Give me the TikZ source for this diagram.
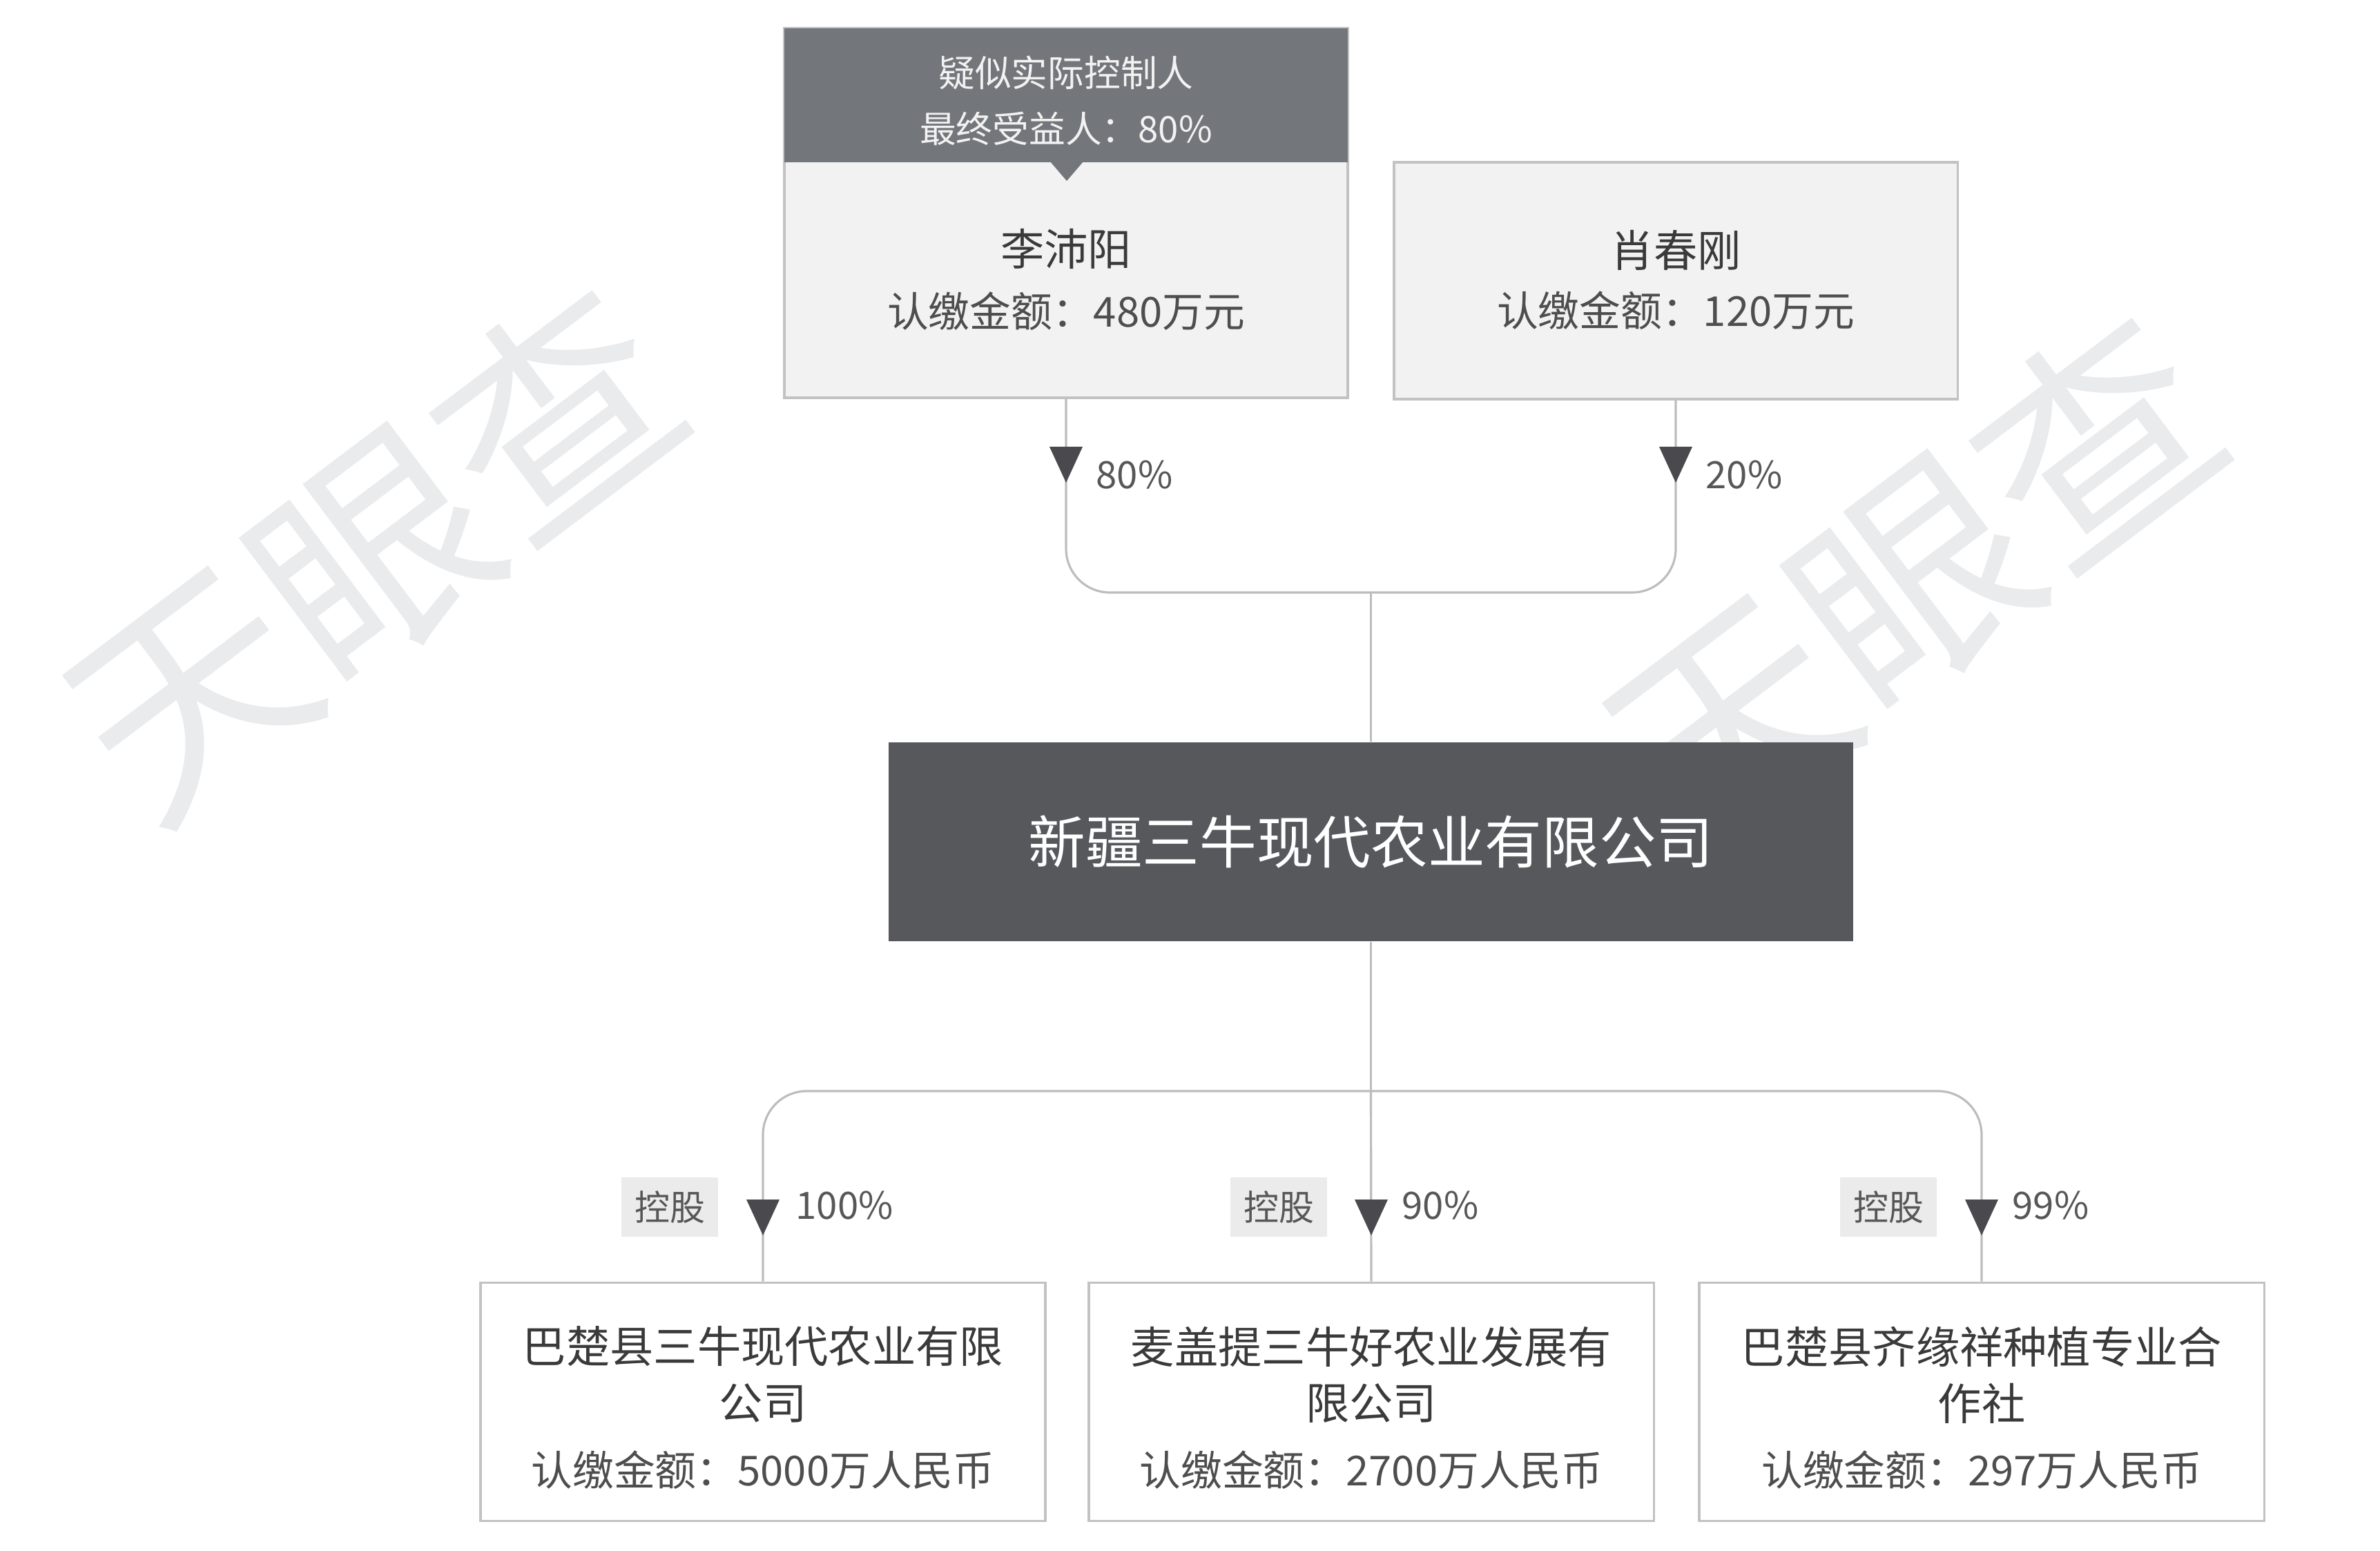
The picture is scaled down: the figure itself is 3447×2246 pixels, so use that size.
\documentclass[tikz,border=0pt]{standalone}
\usepackage{fontspec}
\newfontfamily\cjk{Noto Sans CJK SC}
\usetikzlibrary{calc}
\definecolor{linec}{HTML}{BDBDBD}
\definecolor{boxb}{HTML}{C2C2C2}
\definecolor{topfill}{HTML}{F2F2F2}
\definecolor{headfill}{HTML}{73767A}
\definecolor{mainfill}{HTML}{56585C}
\definecolor{arrowc}{HTML}{4A4A4E}
\definecolor{textc}{HTML}{3A3A3A}
\definecolor{tagfill}{HTML}{EBEBEB}
\definecolor{wmark}{HTML}{EAEBED}
\newcommand\fsz[1]{\fontsize{#1pt}{#1pt}\selectfont}
\tikzset{
  conn/.style={draw=linec, line width=0.9pt},
  topbox/.style={draw=boxb, fill=topfill, line width=1pt, minimum width=8.16cm, inner sep=0pt},
  headbox/.style={fill=headfill, minimum width=8.16cm, minimum height=1.94cm, inner sep=0pt},
  mainbox/.style={fill=mainfill, minimum width=13.97cm, minimum height=2.88cm, inner sep=0pt, text=white, font=\cjk\fsz{23.5}},
  subbox/.style={draw=boxb, fill=white, line width=1pt, minimum width=8.18cm, minimum height=3.45cm, inner sep=0pt},
  namet/.style={inner sep=0pt, text=textc, font=\cjk\fsz{18}},
  amtt/.style={inner sep=0pt, text=textc!90!white, font=\cjk\fsz{17}},
  headt/.style={inner sep=0pt, text=white!95!black, font=\cjk\fsz{15}},
  pct/.style={inner sep=0pt, anchor=west, text=textc!85!white, font=\cjk\fsz{15.5}},
  tagt/.style={fill=tagfill, minimum width=1.40cm, minimum height=0.85cm, inner sep=0pt, text=textc!85!white, font=\cjk\fsz{14.5}},
  wm/.style={inner sep=0pt, text=wmark, font=\cjk\fsz{95}, rotate=37},
  tri/.style={fill=arrowc}
}
\begin{document}
\begin{tikzpicture}[x=0.01cm, y=-0.01cm]
\useasboundingbox[fill=white] (0,0) rectangle (3447,2246);

% watermarks
\node[wm] (wm1) at (540,800) {天眼查};
\node[wm] (wm2) at (2770,840) {天眼查};

% top-left shareholder
\node[topbox, minimum height=5.35cm] (li) at (1544,308.5) {};
\node[headbox] (lihead) at (1544,138) {};
\fill[headfill] (1521,234) -- (1569,234) -- (1545,262) -- cycle;
\node[headt] (lih1) at (1544,105) {疑似实际控制人};
\node[headt] (lih2) at (1544,186) {最终受益人：80\%};
\node[namet] (lin) at (1544,360) {李沛阳};
\node[amtt] (lia) at (1544,451) {认缴金额：480万元};

% top-right shareholder
\node[topbox, minimum height=3.43cm] (xiao) at (2427,406.5) {};
\node[namet] (xiaon) at (2427,362) {肖春刚};
\node[amtt] (xiaoa) at (2427,450) {认缴金额：120万元};

% main company
\node[mainbox] (main) at (1985.5,1219) {新疆三牛现代农业有限公司};

% subsidiaries
\node[subbox] (c1) at (1105,2030) {};
\node[subbox] (c2) at (1986,2030) {};
\node[subbox] (c3) at (2870,2030) {};
\node[namet] (c1l1) at (1105,1950) {巴楚县三牛现代农业有限};
\node[namet] (c1l2) at (1105,2032) {公司};
\node[amtt] (c1a) at (1105,2129) {认缴金额：5000万人民币};
\node[namet] (c2l1) at (1986,1950) {麦盖提三牛好农业发展有};
\node[namet] (c2l2) at (1986,2032) {限公司};
\node[amtt] (c2a) at (1986,2129) {认缴金额：2700万人民币};
\node[namet] (c3l1) at (2870,1950) {巴楚县齐缘祥种植专业合};
\node[namet] (c3l2) at (2870,2032) {作社};
\node[amtt] (c3a) at (2870,2129) {认缴金额：297万人民币};

% top connectors
\coordinate (jt) at (1985.5,858);
\draw[conn, rounded corners=18] (li.south) |- (jt) -| (xiao.south);
\draw[conn] (jt) -- (main.north);

% bottom connectors
\coordinate (jb) at (1985.5,1580);
\draw[conn] (main.south) -- (jb);
\draw[conn, rounded corners=18] (c1.north) |- (jb) -| (c3.north);
\draw[conn] (jb) -- (c2.north);

% top arrows and labels
\fill[tri] (1520,647) -- (1568,647) -- (1544,699) -- cycle;
\node[pct] (p80) at (1587,688) {80\%};
\fill[tri] (2403,647) -- (2451,647) -- (2427,699) -- cycle;
\node[pct] (p20) at (2470,688) {20\%};

% bottom arrows, tags, labels
\fill[tri] (1081,1737) -- (1129,1737) -- (1105,1789) -- cycle;
\node[tagt] (t1) at (970,1748) {控股};
\node[pct] (p100) at (1152,1746) {100\%};
\fill[tri] (1962,1737) -- (2010,1737) -- (1986,1789) -- cycle;
\node[tagt] (t2) at (1852,1748) {控股};
\node[pct] (p90) at (2030,1746) {90\%};
\fill[tri] (2846,1737) -- (2894,1737) -- (2870,1789) -- cycle;
\node[tagt] (t3) at (2735,1748) {控股};
\node[pct] (p99) at (2914,1746) {99\%};
\end{tikzpicture}
\end{document}
